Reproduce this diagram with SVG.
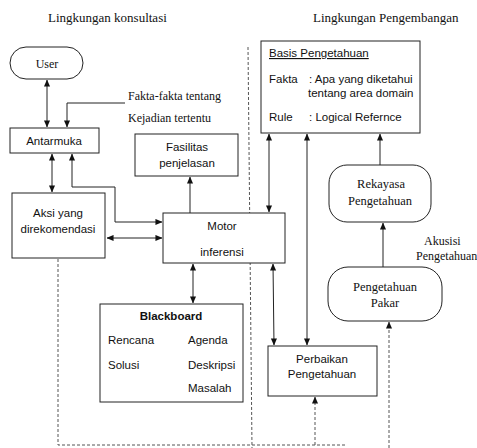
<svg xmlns="http://www.w3.org/2000/svg" width="477" height="448" viewBox="0 0 477 448">
<style>
.box{fill:#fff;stroke:#222;stroke-width:1}
.ln{fill:none;stroke:#222;stroke-width:1}
.dash{fill:none;stroke:#555;stroke-width:1;stroke-dasharray:3,2}
.s{font-family:"Liberation Sans",Arial,sans-serif;font-size:11.5px;fill:#111}
.m{text-anchor:middle}
</style>
<defs>
<marker id="ah" viewBox="0 0 8 8" refX="7.5" refY="4" markerWidth="7" markerHeight="7" orient="auto-start-reverse" markerUnits="userSpaceOnUse">
<path d="M0,0.5 L8,4 L0,7.5 Z" fill="#111"/>
</marker>
</defs>
<rect width="477" height="448" fill="#fff"/>
<g font-family="'Liberation Serif', 'DejaVu Serif', serif" font-size="12" fill="#111">
<text x="48" y="22" font-size="13">Lingkungan konsultasi</text>
<text x="313" y="22" font-size="13">Lingkungan Pengembangan</text>
<text x="128" y="100">Fakta-fakta tentang</text>
<text x="128" y="122">Kejadian tertentu</text>
<text x="424" y="245">Akusisi</text>
<text x="416" y="260">Pengetahuan</text>
</g>

<g id="connectors">
<line class="ln" x1="47" y1="80" x2="47" y2="127" marker-start="url(#ah)" marker-end="url(#ah)"/>
<polyline class="ln" points="125,103 67,103 67,127" marker-end="url(#ah)"/>
<line class="ln" x1="52" y1="154" x2="52" y2="192" marker-start="url(#ah)" marker-end="url(#ah)"/>
<polyline class="ln" points="72,154 72,187 115,187 115,222 162,222" marker-start="url(#ah)" marker-end="url(#ah)"/>
<line class="ln" x1="107" y1="238" x2="162" y2="238" marker-start="url(#ah)" marker-end="url(#ah)"/>
<line class="ln" x1="190" y1="213" x2="190" y2="177" marker-end="url(#ah)"/>
<line class="ln" x1="193" y1="264" x2="193" y2="303" marker-start="url(#ah)" marker-end="url(#ah)"/>
<line class="ln" x1="269" y1="134" x2="269" y2="212" marker-start="url(#ah)" marker-end="url(#ah)"/>
<line class="ln" x1="273" y1="264" x2="274" y2="345" marker-start="url(#ah)" marker-end="url(#ah)"/>
<line class="ln" x1="307" y1="134" x2="307" y2="345" marker-start="url(#ah)" marker-end="url(#ah)"/>
<line class="ln" x1="380" y1="165" x2="380" y2="134" marker-end="url(#ah)"/>
<line class="ln" x1="383" y1="267" x2="383" y2="223" marker-end="url(#ah)"/>
<line class="dash" x1="248" y1="47" x2="252" y2="448"/>
<polyline class="dash" points="58,259 58,445 346,445"/>
<line class="dash" x1="315" y1="445" x2="315" y2="397" marker-end="url(#ah)"/>
<line class="dash" x1="389" y1="448" x2="389" y2="322" marker-end="url(#ah)"/>
</g>

<g id="user">
<rect class="box" x="10" y="47" width="73" height="32" rx="16"/>
<text font-family="'Liberation Serif', 'DejaVu Serif', serif" font-size="12" fill="#111" text-anchor="middle" x="47" y="68">User</text>
</g>
<g id="antarmuka">
<rect class="box" x="10" y="128" width="89" height="25"/>
<text class="s m" x="54" y="145">Antarmuka</text>
</g>
<g id="aksi">
<rect class="box" x="12" y="193" width="93" height="65"/>
<text class="s m" x="58" y="217" font-size="12">Aksi yang</text>
<text class="s m" x="58" y="233" font-size="12">direkomendasi</text>
</g>
<g id="fasilitas">
<rect class="box" x="135" y="134" width="103" height="42"/>
<text class="s m" x="187" y="151">Fasilitas</text>
<text class="s m" x="187" y="167">penjelasan</text>
</g>
<g id="motor">
<rect class="box" x="163" y="213" width="122" height="50"/>
<text class="s m" x="222" y="230">Motor</text>
<text class="s m" x="222" y="256">inferensi</text>
</g>
<g id="blackboard">
<rect class="box" x="100" y="304" width="143" height="98"/>
<text class="s m" x="171" y="320" font-weight="bold">Blackboard</text>
<text class="s" x="108" y="344">Rencana</text>
<text class="s" x="188" y="344">Agenda</text>
<text class="s" x="108" y="369">Solusi</text>
<text class="s" x="188" y="369">Deskripsi</text>
<text class="s" x="188" y="392">Masalah</text>
</g>
<g id="basis">
<rect class="box" x="261" y="41" width="159" height="92"/>
<text class="s" x="269" y="57" text-decoration="underline">Basis Pengetahuan</text>
<text class="s" x="269" y="83">Fakta</text>
<text class="s" x="309" y="83">: Apa yang diketahui</text>
<text class="s" x="308" y="97">tentang area domain</text>
<text class="s" x="269" y="121">Rule</text>
<text class="s" x="309" y="121">: Logical Refernce</text>
</g>
<g id="perbaikan">
<rect class="box" x="268" y="346" width="109" height="50"/>
<text class="s m" x="322" y="363">Perbaikan</text>
<text class="s m" x="322" y="378">Pengetahuan</text>
</g>
<g id="rekayasa">
<rect class="box" x="329" y="165" width="102" height="57" rx="18"/>
<g font-family="'Liberation Serif', 'DejaVu Serif', serif" font-size="12.5" fill="#111" text-anchor="middle">
<text x="381" y="188">Rekayasa</text>
<text x="380" y="205">Pengetahuan</text>
</g>
</g>
<g id="pakar">
<rect class="box" x="328" y="267" width="114" height="54" rx="20"/>
<g font-family="'Liberation Serif', 'DejaVu Serif', serif" font-size="12.5" fill="#111" text-anchor="middle">
<text x="385" y="291">Pengetahuan</text>
<text x="385" y="307">Pakar</text>
</g>
</g>
</svg>
